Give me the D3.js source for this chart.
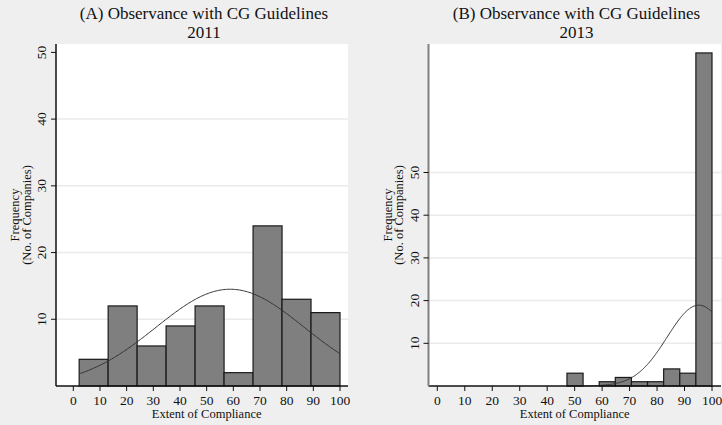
<!DOCTYPE html>
<html>
<head>
<meta charset="utf-8">
<script src="https://cdn.jsdelivr.net/npm/d3@7"></script>
<style>
  body { margin: 0; background: #efefef; }
  svg { display: block; }
  text { font-family: "Liberation Serif", "Times New Roman", serif; fill: #111; }
</style>
</head>
<body>
<svg width="722" height="425"></svg>
<script>
// histogram counts (9 bins each)
const countsA = [4, 12, 6, 9, 12, 2, 24, 13, 11]
const countsB = [3, 0, 1, 2, 1, 1, 4, 3, 78]
const rangeA = [2.2, 100]
const rangeB = [47.2, 100]
// fitted normal overlay (mean, sd)
const normalA = [58.8, 27.8]
const normalB = [95.2, 11.5]

const xTicks = [0, 10, 20, 30, 40, 50, 60, 70, 80, 90, 100]
const yTicks = [10, 20, 30, 40, 50]
const titlesA = ['(A) Observance with CG Guidelines', '2011']
const titlesB = ['(B) Observance with CG Guidelines', '2013']

const svg = d3.select('svg')

function panel(cfg) {
  const g = svg.append('g')
  const x = d3.scaleLinear().domain([0, 100]).range(cfg.xr)
  const y = d3.scaleLinear().domain([0, 50]).range(cfg.yr)
  const [left, right, top, bottom] = cfg.box

  g.append('rect')
    .attr('x', left).attr('y', top)
    .attr('width', right - left).attr('height', bottom - top)
    .attr('fill', '#fff')

  // grid
  g.selectAll('line.grid')
    .data(cfg.grid)
    .enter().append('line')
    .attr('x1', left).attr('x2', right)
    .attr('y1', d => y(d)).attr('y2', d => y(d))
    .attr('stroke', '#eaeaea').attr('stroke-width', 1.5)

  // bars
  const n = cfg.counts.length
  const w = (cfg.range[1] - cfg.range[0]) / n
  const bins = cfg.counts
    .map((c, i) => ({ c, x0: cfg.range[0] + i * w, x1: cfg.range[0] + (i + 1) * w }))
    .filter(b => b.c > 0)
  g.selectAll('rect.bar')
    .data(bins)
    .enter().append('rect')
    .attr('x', d => x(d.x0))
    .attr('y', d => y(d.c))
    .attr('width', d => x(d.x1) - x(d.x0))
    .attr('height', d => y(0) - y(d.c))
    .attr('fill', '#7f7f7f')
    .attr('stroke', '#1a1a1a')
    .attr('stroke-width', 1.2)

  // normal curve
  const total = d3.sum(cfg.counts)
  const [mu, sd] = cfg.normal
  const pts = d3.range(0, 201).map(k => {
    const v = cfg.range[0] + (cfg.range[1] - cfg.range[0]) * k / 200
    const dens = Math.exp(-0.5 * ((v - mu) / sd) ** 2) / (sd * Math.sqrt(2 * Math.PI))
    return [v, total * w * dens]
  })
  g.append('path')
    .attr('d', d3.line().x(d => x(d[0])).y(d => y(d[1]))(pts))
    .attr('fill', 'none')
    .attr('stroke', '#333')
    .attr('stroke-width', 1)

  // x axis
  g.append('line')
    .attr('x1', left).attr('x2', right)
    .attr('y1', bottom).attr('y2', bottom)
    .attr('stroke', '#111').attr('stroke-width', 1.5)
  g.selectAll('line.xt')
    .data(xTicks).enter().append('line')
    .attr('x1', d => x(d)).attr('x2', d => x(d))
    .attr('y1', bottom).attr('y2', bottom + 5)
    .attr('stroke', '#111')
  g.selectAll('text.xt')
    .data(xTicks).enter().append('text')
    .attr('x', d => x(d)).attr('y', bottom + 19)
    .attr('text-anchor', 'middle')
    .attr('font-size', 13.5)
    .text(d => d)
  g.append('text')
    .attr('x', x(50)).attr('y', bottom + 32)
    .attr('text-anchor', 'middle')
    .attr('font-size', 12.5)
    .text('Extent of Compliance')

  // y axis
  g.append('line')
    .attr('x1', left).attr('x2', left)
    .attr('y1', top).attr('y2', bottom)
    .attr('stroke', cfg.axisColor).attr('stroke-width', cfg.axisWidth)
  g.selectAll('line.yt')
    .data(yTicks).enter().append('line')
    .attr('x1', left - 5).attr('x2', left)
    .attr('y1', d => y(d)).attr('y2', d => y(d))
    .attr('stroke', '#111')
  g.selectAll('text.yt')
    .data(yTicks).enter().append('text')
    .attr('transform', d => `translate(${left - 10}, ${y(d)}) rotate(-90)`)
    .attr('text-anchor', 'middle')
    .attr('font-size', 13.5)
    .text(d => d)
  g.append('text')
    .attr('transform', `translate(${left - 37}, ${(top + bottom) / 2}) rotate(-90)`)
    .attr('text-anchor', 'middle')
    .attr('font-size', 12.5)
    .text('Frequency')
  g.append('text')
    .attr('transform', `translate(${left - 25.5}, ${(top + bottom) / 2}) rotate(-90)`)
    .attr('text-anchor', 'middle')
    .attr('font-size', 12.5)
    .text('(No. of Companies)')

  // title
  g.selectAll('text.title')
    .data(cfg.titles).enter().append('text')
    .attr('x', cfg.titleX)
    .attr('y', (d, i) => 18.5 + i * 19)
    .attr('text-anchor', 'middle')
    .attr('font-size', 17)
    .text(d => d)
}

panel({
  counts: countsA, range: rangeA, normal: normalA, titles: titlesA, titleX: 204,
  xr: [73.3, 340], yr: [386, 52.4], box: [56, 348, 44, 386],
  grid: [10, 20, 30, 40], axisColor: '#111', axisWidth: 1.5
})
panel({
  counts: countsB, range: rangeB, normal: normalB, titles: titlesB, titleX: 576.5,
  xr: [437.3, 712], yr: [386, 172.5], box: [428.5, 721, 44, 386],
  grid: [10, 20, 30, 40, 50], axisColor: '#808080', axisWidth: 2
})
</script>
</body>
</html>
